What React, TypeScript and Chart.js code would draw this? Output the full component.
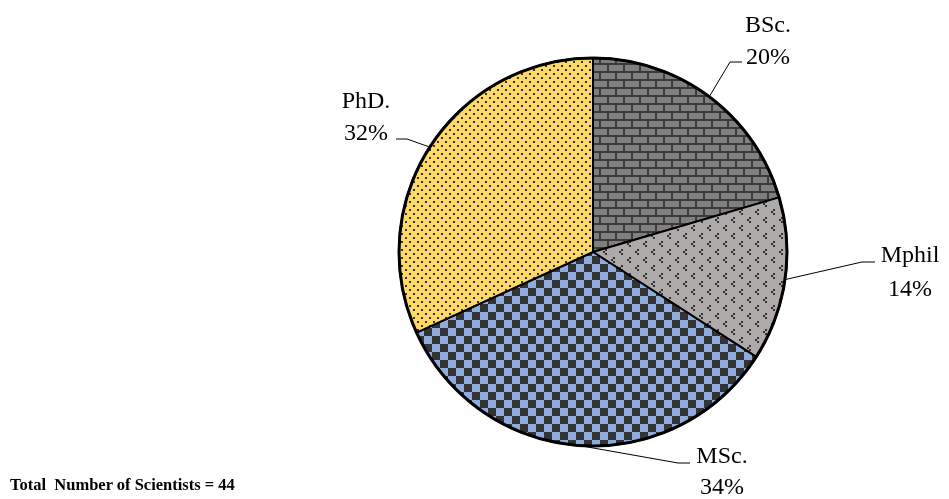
import React, { useEffect, useRef } from 'react';
import { Chart, registerables } from 'chart.js';

Chart.register(...registerables);

// ---- data ----
const categories = ['BSc.', 'Mphil', 'MSc.', 'PhD.'];
const scientistCounts = [9, 6, 15, 14];
const totalLabel = 'Total  Number of Scientists = 44';

// ---- label layout (offsets from pie centre, px) ----
const labelElbows = [
  [137, -190],
  [269, 10],
  [85, 211],
  [-186, -113],
];
const labelEnds = [
  [149, -190],
  [282, 10],
  [97, 211],
  [-197, -113],
];
const labelTextX = [175, 317, 129, -227];
const labelBaselines = [
  [-220, -188],
  [10, 44],
  [211, 242],
  [-144, -112],
];

function makePattern(w: number, h: number, draw: (c: CanvasRenderingContext2D) => void) {
  const cv = document.createElement('canvas');
  cv.width = w;
  cv.height = h;
  const ctx = cv.getContext('2d')!;
  draw(ctx);
  return ctx.createPattern(cv, 'repeat')!;
}

function buildPatterns() {
  const brick = makePattern(16, 16, (c) => {
    c.fillStyle = '#3a3a3a';
    c.fillRect(0, 0, 16, 16);
    c.fillStyle = '#7f7f7f';
    c.fillRect(1, 1, 14, 6);
    c.fillRect(0, 9, 7, 6);
    c.fillRect(9, 9, 7, 6);
  });
  const chevrons = makePattern(16, 16, (c) => {
    c.fillStyle = '#aeaaaa';
    c.fillRect(0, 0, 16, 16);
    c.fillStyle = '#333333';
    const mark = (bx: number, by: number) => {
      c.fillRect(bx + 2, by, 2, 2);
      c.fillRect(bx, by + 2, 2, 2);
      c.fillRect(bx + 2, by + 4, 2, 2);
    };
    mark(3, 1);
    mark(11, 9);
  });
  const checker = makePattern(16, 16, (c) => {
    c.fillStyle = '#8faadc';
    c.fillRect(0, 0, 16, 16);
    c.fillStyle = '#333333';
    c.fillRect(0, 0, 8, 8);
    c.fillRect(8, 8, 8, 8);
  });
  const dots = makePattern(8, 8, (c) => {
    c.fillStyle = '#ffd966';
    c.fillRect(0, 0, 8, 8);
    c.fillStyle = '#333333';
    c.fillRect(1, 1, 2, 2);
    c.fillRect(5, 5, 2, 2);
  });
  return [brick, chevrons, checker, dots];
}

const labelPlugin = {
  id: 'pieLabels',
  afterDatasetsDraw(chart: any) {
    const ctx: CanvasRenderingContext2D = chart.ctx;
    const meta = chart.getDatasetMeta(0);
    const data: number[] = chart.data.datasets[0].data;
    const total = data.reduce((a, b) => a + b, 0);
    ctx.save();
    // thicker outer rim
    if (meta.data.length) {
      const p0 = meta.data[0].getProps(['x', 'y', 'outerRadius'], true);
      ctx.beginPath();
      ctx.strokeStyle = '#000000';
      ctx.lineWidth = 3;
      ctx.arc(p0.x, p0.y, p0.outerRadius, 0, Math.PI * 2);
      ctx.stroke();
    }
    meta.data.forEach((arc: any, i: number) => {
      const p = arc.getProps(['x', 'y', 'startAngle', 'endAngle', 'outerRadius'], true);
      const mid = (p.startAngle + p.endAngle) / 2;
      const sx = p.x + Math.cos(mid) * p.outerRadius;
      const sy = p.y + Math.sin(mid) * p.outerRadius;
      ctx.beginPath();
      ctx.strokeStyle = '#000000';
      ctx.lineWidth = 1;
      ctx.moveTo(sx, sy);
      ctx.lineTo(p.x + labelElbows[i][0], p.y + labelElbows[i][1]);
      ctx.lineTo(p.x + labelEnds[i][0], p.y + labelEnds[i][1]);
      ctx.stroke();
      ctx.fillStyle = '#000000';
      ctx.font = '24px "Liberation Serif", "Times New Roman", serif';
      ctx.textAlign = 'center';
      ctx.textBaseline = 'alphabetic';
      const pct = Math.round((data[i] / total) * 100) + '%';
      ctx.fillText(String(chart.data.labels[i]), p.x + labelTextX[i], p.y + labelBaselines[i][0]);
      ctx.fillText(pct, p.x + labelTextX[i], p.y + labelBaselines[i][1]);
    });
    ctx.restore();
  },
};

export default function App() {
  const canvasRef = useRef<HTMLCanvasElement | null>(null);

  useEffect(() => {
    const canvas = canvasRef.current;
    if (!canvas) return;
    const patterns = buildPatterns();
    const chart = new Chart(canvas, {
      type: 'pie',
      data: {
        labels: categories,
        datasets: [
          {
            data: scientistCounts,
            backgroundColor: patterns as any,
            borderColor: '#000000',
            borderWidth: 2,
          },
        ],
      },
      options: {
        responsive: false,
        animation: false,
        devicePixelRatio: 1,
        events: [],
        layout: { padding: { left: 398, right: 161, top: 57, bottom: 52 } },
        plugins: {
          legend: { display: false },
          tooltip: { enabled: false },
        },
      },
      plugins: [labelPlugin],
    });
    return () => chart.destroy();
  }, []);

  return (
    <div style={{ position: 'absolute', left: 0, top: 0, width: 949, height: 499, background: '#ffffff' }}>
      <canvas ref={canvasRef} width={949} height={499} style={{ display: 'block' }} />
      <div
        style={{
          position: 'absolute',
          left: 10,
          top: 477,
          font: 'bold 16.5px "Liberation Serif", "Times New Roman", serif',
          lineHeight: '16px',
          whiteSpace: 'pre',
          color: '#000',
        }}
      >
        {totalLabel}
      </div>
    </div>
  );
}
